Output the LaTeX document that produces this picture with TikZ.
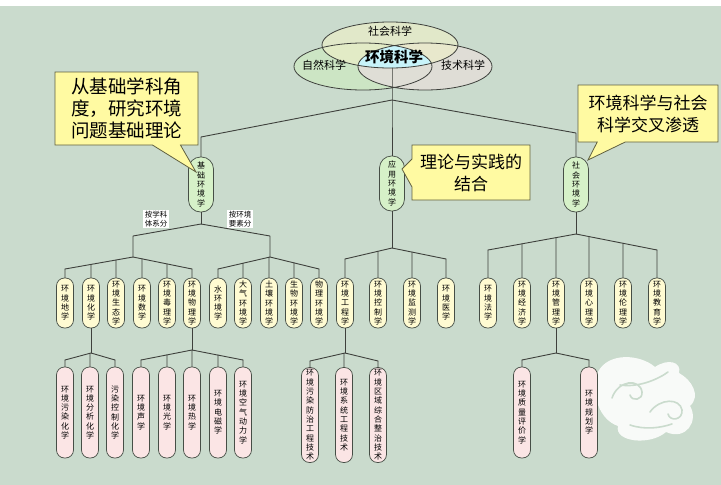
\documentclass[tikz,border=0pt]{standalone}
\usepackage{fontspec}
\setmainfont{Noto Sans CJK SC}
\usetikzlibrary{shapes.callouts}

\definecolor{bgcol}{RGB}{202,219,205}
\definecolor{linecol}{RGB}{62,64,60}
\definecolor{greenpill}{RGB}{214,241,200}
\definecolor{yellowpill}{RGB}{255,251,210}
\definecolor{pinkpill}{RGB}{251,229,229}
\definecolor{pilledge}{RGB}{70,78,70}
\definecolor{notefill}{RGB}{255,250,162}
\definecolor{noteedge}{RGB}{96,96,64}
\definecolor{socsci}{RGB}{236,238,200}
\definecolor{natsci}{RGB}{204,229,196}
\definecolor{techsci}{RGB}{226,222,216}
\definecolor{coresci}{RGB}{200,244,250}

% one character per line
\newcommand\vtext[1]{\expandafter\vtextA#1\vtextend}
\def\vtextA#1#2\vtextend{#1\ifx\relax#2\relax\else\\\vtextA#2\vtextend\fi}

\tikzstyle{link}=[draw=linecol,line width=0.9pt,line cap=round,line join=round]
\tikzstyle{vennline}=[draw=linecol,line width=0.8pt]
\tikzstyle{pill}=[draw=pilledge,line width=0.7pt,inner sep=0pt,align=center,font=\fontsize{8}{9.3}\selectfont]
\tikzstyle{pillone}=[pill,fill=greenpill,minimum width=25pt,minimum height=55pt,rounded corners=12pt]
\tikzstyle{pilltwo}=[pill,fill=yellowpill,minimum width=17pt,minimum height=50pt,rounded corners=8pt]
\tikzstyle{pillthree}=[pill,fill=pinkpill,minimum width=17pt,minimum height=91pt,rounded corners=8pt]
\tikzstyle{note}=[rectangle callout,draw=noteedge,fill=notefill,line width=0.8pt,inner sep=0pt,align=center,callout pointer width=28pt,font=\fontsize{17}{22}\selectfont]
\tikzstyle{tag}=[fill=white,inner sep=1.5pt,align=center,font=\fontsize{7.5}{8.5}\selectfont]

\begin{document}
\begin{tikzpicture}[x=1pt,y=-1pt]
  \useasboundingbox (0,0) rectangle (721,485);
  \fill[bgcol] (0,0) rectangle (721,485);
  \fill[white] (0,0) rectangle (721,6);

  % cloud emblem
  \fill[white,opacity=0.88] (598,372) .. controls (608,352) and (640,354) .. (655,367)
    .. controls (668,358) and (682,362) .. (679,373) .. controls (692,380) and (701,396) .. (690,406)
    .. controls (699,421) and (686,441) .. (666,432) .. controls (650,446) and (614,442) .. (618,426)
    .. controls (600,420) and (590,395) .. (598,372) -- cycle;
  \draw[bgcol,line width=1.6pt,line cap=round] (612,398) .. controls (618,380) and (640,378) .. (642,392)
    .. controls (643,400) and (632,402) .. (630,395)
    (650,412) .. controls (660,398) and (680,398) .. (682,410) .. controls (683,420) and (670,422) .. (668,414)
    (620,385) .. controls (640,388) and (660,378) .. (668,372)
    (630,425) .. controls (645,430) and (660,428) .. (672,424);

  % three sciences
  \fill[natsci] (363,66.5) ellipse (69 and 23.5);
  \fill[techsci,fill opacity=0.9] (425,66.5) ellipse (67 and 23.5);
  \fill[socsci,fill opacity=0.7] (390,45) ellipse (68 and 23);
  \begin{scope}
    \clip (390,45) ellipse (68 and 23);
    \clip (363,66.5) ellipse (69 and 23.5);
    \fill[coresci] (425,66.5) ellipse (67 and 23.5);
  \end{scope}
  \draw[vennline] (363,66.5) ellipse (69 and 23.5)
    (425,66.5) ellipse (67 and 23.5)
    (390,45) ellipse (68 and 23);
  \node[font=\fontsize{11}{12}\selectfont] (soc) at (390,31) {社会科学};
  \node[font=\fontsize{11}{12}\selectfont] (nat) at (324,65) {自然科学};
  \node[font=\fontsize{11}{12}\selectfont] (tech) at (463,65) {技术科学};
  \node[font=\fontsize{14.5}{15}\selectfont\bfseries] (envsci) at (394,56.5) {环境科学};

  % first level
  \node[pillone] (basic) at (201,184.5) {\vtext{基础环境学}};
  \node[pillone] (applied) at (392,183.5) {\vtext{应用环境学}};
  \node[pillone] (social) at (576,184.5) {\vtext{社会环境学}};
  \coordinate (j0) at (applied.north |- 0,100);
  \coordinate (core) at (j0 |- 0,68);
  \draw[link] (core) -- (j0) -- (applied.north);
  \draw[link] (basic.north) -- (basic.north |- 0,137) -- (j0) -- (social.north |- 0,133) -- (social.north);

  % basic branch
  \coordinate (jb) at (basic.south |- 0,224);
  \coordinate (jba) at (133,257);
  \coordinate (jbb) at (270,257);
  \draw[link] (basic.south) -- (jb);
  \draw[link] (jba) -- (jba |- 0,236) -- (jb) -- (jbb |- 0,236) -- (jbb);
  \node[tag] (bydisc) at (156,219) {按学科\\体系分};
  \node[tag] (byelem) at (240,219) {按环境\\要素分};

  \foreach \x/\n/\t in {65/dixue/环境地学,91/huaxue/环境化学,116/shengtai/环境生态学,
      142/shuxue/环境数学,167/duli/环境毒理学,192/wuli/环境物理学}
    \node[pilltwo] (\n) at (\x,303) {\vtext\t};
  \coordinate (jba1) at (dixue.north |- 0,269);
  \coordinate (jba2) at (wuli.north |- 0,269);
  \draw[link] (jba1) -- (jba) -- (jba2);
  \foreach \n/\e in {dixue/jba1,huaxue/jba1,shengtai/jba1,shuxue/jba2,duli/jba2,wuli/jba2}
    \draw[link] (\n.north) -- (intersection of \n.north--\n.south and jba--\e);

  \foreach \x/\n/\t in {218/shui/水环境学,243/daqi/大气环境学,269/turang/土壤环境学,
      294/shengwu/生物环境学,319/wuliy/物理环境学}
    \node[pilltwo] (\n) at (\x,303) {\vtext\t};
  \coordinate (jbb1) at (shui.north |- 0,269);
  \coordinate (jbb2) at (wuliy.north |- 0,269);
  \draw[link] (jbb1) -- (jbb) -- (jbb2);
  \foreach \n/\e in {shui/jbb1,daqi/jbb1,turang/jbb1,shengwu/jbb2,wuliy/jbb2}
    \draw[link] (\n.north) -- (intersection of \n.north--\n.south and jbb--\e);

  % applied branch
  \foreach \x/\n/\t in {345/gongcheng/环境工程学,378/kongzhi/环境控制学,
      412/jiance/环境监测学,446/yixue/环境医学}
    \node[pilltwo] (\n) at (\x,303) {\vtext\t};
  \coordinate (ja) at (applied.south |- 0,248);
  \coordinate (ja1) at (gongcheng.north |- 0,259);
  \coordinate (ja2) at (yixue.north |- 0,259);
  \draw[link] (applied.south) -- (ja);
  \draw[link] (ja1) -- (ja) -- (ja2);
  \foreach \n/\e in {gongcheng/ja1,kongzhi/ja1,jiance/ja2,yixue/ja2}
    \draw[link] (\n.north) -- (intersection of \n.north--\n.south and ja--\e);

  % social branch
  \foreach \x/\n/\t in {488/faxue/环境法学,522/jingji/环境经济学,556/guanli/环境管理学,
      589/xinli/环境心理学,623/lunli/环境伦理学,657/jiaoyu/环境教育学}
    \node[pilltwo] (\n) at (\x,303) {\vtext\t};
  \coordinate (js) at (social.south |- 0,234);
  \coordinate (js1) at (faxue.north |- 0,250);
  \coordinate (js2) at (jiaoyu.north |- 0,250);
  \draw[link] (social.south) -- (js);
  \draw[link] (js1) -- (js) -- (js2);
  \foreach \n/\e in {faxue/js1,jingji/js1,guanli/js1,xinli/js2,lunli/js2,jiaoyu/js2}
    \draw[link] (\n.north) -- (intersection of \n.north--\n.south and js--\e);

  % third level
  \foreach \x/\n/\t in {65/wuranhx/环境污染化学,90/fenxi/环境分析化学,115/kongzhihx/污染控制化学}
    \node[pillthree] (\n) at (\x,412.5) {\vtext\t};
  \coordinate (jh) at (huaxue.south |- 0,353);
  \coordinate (jh1) at (wuranhx.north |- 0,360);
  \coordinate (jh2) at (kongzhihx.north |- 0,360);
  \draw[link] (huaxue.south) -- (jh);
  \draw[link] (jh1) -- (jh) -- (jh2);
  \foreach \n/\e in {wuranhx/jh1,fenxi/jh1,kongzhihx/jh2}
    \draw[link] (\n.north) -- (intersection of \n.north--\n.south and jh--\e);

  \foreach \x/\n/\t in {141/shengxue/环境声学,167/guangxue/环境光学,192/rexue/环境热学,
      218/dianci/环境电磁学,243/kongqi/环境空气动力学}
    \node[pillthree] (\n) at (\x,412.5) {\vtext\t};
  \coordinate (jw) at (wuli.south |- 0,350);
  \coordinate (jw1) at (shengxue.north |- 0,360);
  \coordinate (jw2) at (kongqi.north |- 0,360);
  \draw[link] (wuli.south) -- (jw);
  \draw[link] (jw1) -- (jw) -- (jw2);
  \foreach \n/\e in {shengxue/jw1,guangxue/jw1,rexue/jw1,dianci/jw2,kongqi/jw2}
    \draw[link] (\n.north) -- (intersection of \n.north--\n.south and jw--\e);

  \foreach \x/\n/\t in {310/fangzhi/环境污染防治工程技术,344/xitong/环境系统工程技术,
      378/quyu/环境区域综合整治技术}
    \node[pillthree,minimum height=95pt] (\n) at (\x,415) {\vtext\t};
  \coordinate (jg) at (gongcheng.south |- 0,353);
  \coordinate (jg1) at (fangzhi.north |- 0,361);
  \coordinate (jg2) at (quyu.north |- 0,361);
  \draw[link] (gongcheng.south) -- (jg);
  \draw[link] (jg1) -- (jg) -- (jg2);
  \foreach \n/\e in {fangzhi/jg1,xitong/jg1,quyu/jg2}
    \draw[link] (\n.north) -- (intersection of \n.north--\n.south and jg--\e);

  \foreach \x/\n/\t in {522/pingjia/环境质量评价学,589/guihua/环境规划学}
    \node[pillthree] (\n) at (\x,412.5) {\vtext\t};
  \coordinate (jm) at (guanli.south |- 0,353);
  \coordinate (jm1) at (pingjia.north |- 0,360);
  \coordinate (jm2) at (guihua.north |- 0,360);
  \draw[link] (guanli.south) -- (jm);
  \draw[link] (jm1) -- (jm) -- (jm2);
  \foreach \n/\e in {pingjia/jm1,guihua/jm2}
    \draw[link] (\n.north) -- (intersection of \n.north--\n.south and jm--\e);

  % notes
  \node[note,minimum width=143pt,minimum height=73pt,callout absolute pointer={(196,172)},
    font=\fontsize{18.5}{22}\selectfont] (basicnote) at (126.5,108.5) {从基础学科角\\度，研究环境\\问题基础理论};
  \node[note,minimum width=118pt,minimum height=55pt,callout absolute pointer={(402,169)}]
    (appliednote) at (471,172.5) {理论与实践的\\结合};
  \node[note,minimum width=140pt,minimum height=57pt,callout absolute pointer={(588,160)}]
    (socialnote) at (648,113.5) {环境科学与社会\\科学交叉渗透};
\end{tikzpicture}
\end{document}
